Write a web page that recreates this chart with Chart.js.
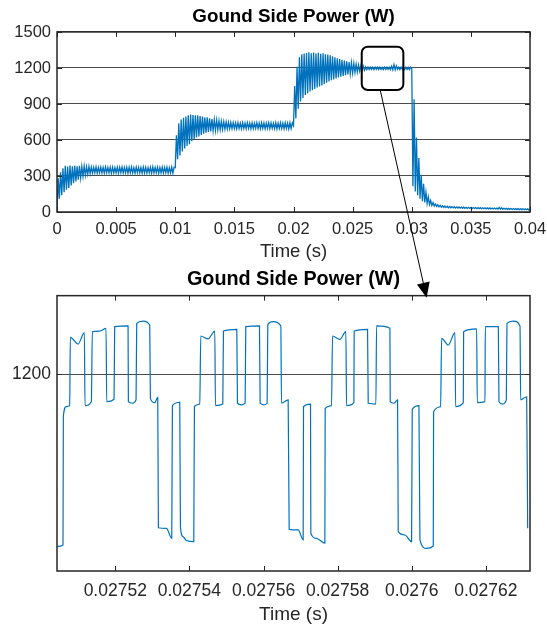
<!DOCTYPE html>
<html><head><meta charset="utf-8">
<script src="https://cdn.jsdelivr.net/npm/chart.js@4/dist/chart.umd.min.js"></script>
<style>
html,body{margin:0;padding:0;background:#fff;}
#wrap{position:relative;width:547px;height:629px;overflow:hidden;}
canvas{position:absolute;left:0;}
</style></head><body>
<div id="wrap">
<canvas id="topChart" width="547" height="266" style="top:0"></canvas>
<canvas id="botChart" width="547" height="363" style="top:266px"></canvas>
<canvas id="overlay" width="547" height="629" style="top:0;pointer-events:none"></canvas>
</div>
<script>
// ---------------- DATA ----------------
const chartTitle = 'Gound Side Power (W)';
const xAxisTitle = 'Time (s)';

const sampleStep = 0.0001;
const groundPower = [
  0, 280, 110, 330, 140, 365, 165, 385, 185, 378,
  200, 388, 222, 380, 240, 386, 255, 381, 270, 385,
  284, 378, 297, 382, 307, 376, 314, 380, 320, 374,
  324, 372, 326, 375, 323, 370, 327, 373, 325, 371,
  323, 374, 327, 370, 325, 373, 322, 372, 326, 369,
  325, 373, 323, 371, 327, 375, 324, 370, 326, 373,
  322, 372, 326, 374, 325, 369, 323, 373, 327, 371,
  325, 370, 323, 374, 326, 372, 324, 369, 327, 373,
  323, 375, 325, 371, 327, 373, 322, 370, 326, 374,
  324, 371, 327, 373, 323, 369, 325, 374, 323, 372,
  370, 640, 440, 740, 470, 770, 505, 785, 530, 795,
  550, 805, 565, 812, 590, 808, 605, 805, 620, 806,
  630, 800, 642, 795, 652, 790, 660, 788, 668, 780,
  672, 775, 676, 770, 680, 765, 684, 760, 686, 756,
  688, 752, 690, 750, 692, 746, 693, 745, 694, 744,
  695, 742, 693, 744, 696, 740, 694, 743, 697, 741,
  694, 744, 696, 741, 693, 743, 695, 740, 697, 744,
  695, 741, 694, 743, 697, 742, 693, 740, 696, 744,
  694, 742, 697, 740, 695, 744, 693, 741, 696, 743,
  695, 740, 694, 743, 696, 741, 693, 744, 695, 742,
  720, 1050, 780, 1210, 860, 1290, 920, 1315, 950, 1320,
  975, 1325, 990, 1330, 1005, 1322, 1015, 1328, 1025, 1320,
  1038, 1326, 1045, 1318, 1055, 1322, 1065, 1315, 1078, 1312,
  1088, 1305, 1098, 1298, 1105, 1290, 1112, 1280, 1120, 1275,
  1128, 1268, 1133, 1262, 1140, 1255, 1146, 1250, 1152, 1244,
  1158, 1238, 1163, 1232, 1168, 1226, 1173, 1220, 1177, 1215,
  1182, 1210, 1186, 1208, 1187, 1207, 1188, 1206, 1187, 1207,
  1188, 1206, 1187, 1207, 1188, 1205, 1187, 1206, 1188, 1207,
  1188, 1206, 1187, 1215, 1185, 1228, 1186, 1218, 1188, 1207,
  1187, 1206, 1188, 1207, 1187, 1206, 1188, 1205, 1187, 1206,
  1195, 215, 940, 170, 620, 140, 450, 110, 310, 90,
  235, 80, 165, 70, 125, 62, 95, 55, 78, 50,
  68, 46, 60, 43, 55, 40, 52, 38, 50, 37,
  48, 36, 46, 35, 45, 34, 44, 33, 43, 33,
  42, 32, 41, 31, 40, 31, 39, 30, 39, 30,
  38, 29, 37, 29, 37, 28, 36, 28, 36, 27,
  35, 27, 35, 26, 34, 26, 34, 25, 33, 25,
  33, 25, 32, 24, 38, 24, 36, 23, 31, 23,
  30, 22, 30, 22, 29, 21, 29, 21, 28, 20,
  28, 20, 27, 20, 27, 19, 26, 19, 26, 18,
  25
];
const topXTicks = [0, 0.005, 0.01, 0.015, 0.02, 0.025, 0.03, 0.035, 0.04];
const topXLabels = ['0', '0.005', '0.01', '0.015', '0.02', '0.025', '0.03', '0.035', '0.04'];
const topYTicks = [0, 300, 600, 900, 1200, 1500];
const topYLabels = ['0', '300', '600', '900', '1200', '1500'];

// Bottom chart: zoomed waveform (time in s, power in W)
const zoomTime = [
  0.02750428, 0.0275059, 0.02750599, 0.0275068, 0.0275077, 0.02750788, 0.02750995, 0.02751166,
  0.02751184, 0.02751355, 0.02751382, 0.0275158, 0.02751751, 0.02751769, 0.02751967, 0.02751985,
  0.02752345, 0.02752354, 0.02752462, 0.02752561, 0.02752579, 0.0275275, 0.0275293, 0.02752948,
  0.02753065, 0.02753146, 0.02753164, 0.0275338, 0.02753524, 0.02753542, 0.0275374, 0.02753758,
  0.0275383, 0.0275392, 0.02754118, 0.02754136, 0.0275428, 0.02754307, 0.02754505, 0.02754685,
  0.02754703, 0.02754901, 0.02754919, 0.02755279, 0.02755297, 0.02755405, 0.02755504, 0.02755522,
  0.02755891, 0.02755909, 0.02756008, 0.02756098, 0.02756116, 0.0275626, 0.02756467, 0.02756485,
  0.02756665, 0.02756692, 0.02756935, 0.0275707, 0.02757079, 0.02757268, 0.02757277, 0.0275743,
  0.02757655, 0.02757664, 0.02757835, 0.02757862, 0.0275806, 0.02758222, 0.0275824, 0.02758438,
  0.02758447, 0.02758807, 0.02758825, 0.02759032, 0.0275905, 0.0275941, 0.02759419, 0.02759518,
  0.02759617, 0.02759635, 0.02759815, 0.02759995, 0.02760013, 0.02760193, 0.0276022, 0.027604,
  0.0276058, 0.02760589, 0.02760778, 0.02760805, 0.02760985, 0.02761165, 0.02761183, 0.0276139,
  0.02761399, 0.0276175, 0.02761768, 0.02761975, 0.02761984, 0.02762335, 0.02762353, 0.02762452,
  0.02762551, 0.02762569, 0.0276274, 0.0276292, 0.02762938, 0.027631, 0.02763127
];
const zoomPower = [
  1112.4, 1113.2, 1178.5, 1183.6, 1184.1, 1218.8, 1215.4, 1221.2,
  1184.1, 1186.1, 1221.7, 1222.0, 1223.4, 1186.1, 1187.3, 1224.3,
  1224.6, 1186.1, 1185.3, 1187.0, 1225.9, 1227.1, 1225.1, 1187.8,
  1185.6, 1188.3, 1122.0, 1121.7, 1116.6, 1184.1, 1185.8, 1122.6,
  1117.5, 1115.5, 1114.9, 1183.6, 1184.9, 1219.5, 1218.0, 1222.0,
  1184.1, 1184.9, 1222.0, 1222.9, 1185.3, 1184.5, 1185.3, 1224.3,
  1224.6, 1185.3, 1184.5, 1185.3, 1225.4, 1226.8, 1224.6, 1185.3,
  1187.0, 1121.2, 1120.9, 1115.8, 1183.6, 1184.9, 1119.2, 1116.6,
  1114.1, 1182.7, 1184.1, 1219.5, 1217.8, 1221.7, 1184.1, 1185.6,
  1222.0, 1222.9, 1185.3, 1184.9, 1224.6, 1223.4, 1186.1, 1185.3,
  1187.0, 1120.0, 1118.3, 1114.9, 1182.2, 1184.1, 1115.8, 1111.5,
  1112.7, 1181.0, 1183.6, 1218.3, 1214.9, 1221.2, 1183.6, 1185.6,
  1221.7, 1223.1, 1185.6, 1186.1, 1224.3, 1224.3, 1186.1, 1184.9,
  1187.0, 1225.9, 1227.1, 1224.6, 1187.0, 1188.6, 1121.7
];
const zoomXRange = [0.02750428, 0.0276319];
const zoomYRange = [1100, 1240];
const zoomXTicks = [0.02752, 0.02754, 0.02756, 0.02758, 0.0276, 0.02762];
const zoomXLabels = ['0.02752', '0.02754', '0.02756', '0.02758', '0.0276', '0.02762'];
const zoomYTicks = [1200];
const zoomYLabels = ['1200'];

// Zoom annotation (box on top chart, arrow to bottom chart)
const zoomBoxTime = [0.02577, 0.02929];
const zoomBoxPower = [1017, 1377];
const arrowFrom = [0.027315, 1025];   // on top chart
const arrowTo = [0.027604, 1239];     // on bottom chart

// ---------------- STYLE ----------------
const FONT = "Arial, 'Liberation Sans', Helvetica, sans-serif";
const LINE = '#0072BD';
const TXT = '#262626';
const GRID = '#4a4a4a';

const framePlugin = {
  id: 'frame',
  afterDraw(chart) {
    const { ctx, chartArea: a, scales } = chart;
    ctx.save();
    ctx.strokeStyle = TXT;
    ctx.lineWidth = 1;
    const L = 5;
    ctx.beginPath();
    scales.x.ticks.forEach(t => {
      const px = Math.round(scales.x.getPixelForValue(t.value)) + 0.5;
      ctx.moveTo(px, a.bottom); ctx.lineTo(px, a.bottom - L);
      ctx.moveTo(px, a.top); ctx.lineTo(px, a.top + L);
    });
    scales.y.ticks.forEach(t => {
      const py = Math.round(scales.y.getPixelForValue(t.value)) + 0.5;
      ctx.moveTo(a.left, py); ctx.lineTo(a.left + L, py);
      ctx.moveTo(a.right, py); ctx.lineTo(a.right - L, py);
    });
    ctx.stroke();
    ctx.lineWidth = 1.5;
    ctx.strokeRect(a.left, a.top, a.right - a.left, a.bottom - a.top);
    ctx.restore();
  }
};

function tickSetter(list) { return s => { s.ticks = list.map(v => ({ value: v })); }; }

function makeChart(id, points, o) {
  return new Chart(document.getElementById(id), {
    type: 'line',
    data: { datasets: [{ data: points, borderColor: LINE, borderWidth: o.lw, pointRadius: 0, fill: false,
      tension: o.monotone ? 0.4 : 0, cubicInterpolationMode: o.monotone ? 'monotone' : 'default' }] },
    options: {
      responsive: false, animation: false, events: [],
      layout: { padding: { left: 0, right: 17, top: 0, bottom: 0 } },
      plugins: {
        legend: { display: false }, tooltip: { enabled: false },
        title: { display: true, fullSize: false, text: chartTitle, color: '#000',
          font: { family: FONT, size: o.titleSize, weight: 'bold', lineHeight: 1.2 },
          padding: o.titlePad }
      },
      scales: {
        x: { type: 'linear', min: o.xmin, max: o.xmax,
          afterBuildTicks: tickSetter(o.xTicks),
          afterFit: s => { s.height = o.xAxisH; s.paddingLeft = 0; s.paddingRight = 0; },
          grid: { display: false, drawTicks: false }, border: { display: false },
          ticks: { autoSkip: false, maxRotation: 0, minRotation: 0, padding: o.xTickPad, color: TXT,
            font: { family: FONT, size: o.tickSize }, callback: (v, i) => o.xLabels[i] },
          title: { display: true, text: xAxisTitle, color: TXT,
            font: { family: FONT, size: o.labelSize, lineHeight: 1.2 }, padding: o.xTitlePad } },
        y: { type: 'linear', min: o.ymin, max: o.ymax,
          afterBuildTicks: tickSetter(o.yTicks),
          afterFit: s => { s.width = o.yAxisW; s.paddingTop = 0; s.paddingBottom = 0; },
          grid: { color: GRID, lineWidth: 1, drawTicks: false }, border: { display: false },
          ticks: { padding: 6, color: TXT, font: { family: FONT, size: o.tickSize },
            callback: (v, i) => o.yLabels[i] } }
      }
    },
    plugins: [framePlugin]
  });
}

const topPoints = groundPower.map((p, i) => ({ x: i * sampleStep, y: p }));
const zoomPoints = zoomTime.map((t, i) => ({ x: t, y: zoomPower[i] }));

const topChart = makeChart('topChart', topPoints, {
  lw: 1.3, monotone: false, titleSize: 18.8, titlePad: { top: 5.4, bottom: 4.0 },
  xmin: 0, xmax: 0.04, xTicks: topXTicks, xLabels: topXLabels, xAxisH: 54, xTickPad: 8,
  tickSize: 16.5, labelSize: 18.5, xTitlePad: { top: 0, bottom: 3 },
  ymin: 0, ymax: 1500, yTicks: topYTicks, yLabels: topYLabels, yAxisW: 57
});
const botChart = makeChart('botChart', zoomPoints, {
  lw: 1.2, monotone: true, titleSize: 19.8, titlePad: { top: 2.1, bottom: 3.8 },
  xmin: zoomXRange[0], xmax: zoomXRange[1], xTicks: zoomXTicks, xLabels: zoomXLabels, xAxisH: 58, xTickPad: 10,
  tickSize: 17.5, labelSize: 19, xTitlePad: { top: 0, bottom: 2.6 },
  ymin: zoomYRange[0], ymax: zoomYRange[1], yTicks: zoomYTicks, yLabels: zoomYLabels, yAxisW: 57
});

// ---------------- OVERLAY (zoom box + arrow) ----------------
(function drawOverlay() {
  const ov = document.getElementById('overlay').getContext('2d');
  const botTop = 266;
  const tx = topChart.scales.x, ty = topChart.scales.y;
  const bxs = botChart.scales.x, bys = botChart.scales.y;
  const x0 = tx.getPixelForValue(zoomBoxTime[0]), x1 = tx.getPixelForValue(zoomBoxTime[1]);
  const y0 = ty.getPixelForValue(zoomBoxPower[1]), y1 = ty.getPixelForValue(zoomBoxPower[0]);
  ov.save();
  ov.strokeStyle = '#000';
  ov.lineWidth = 2;
  ov.beginPath();
  ov.roundRect(x0, y0, x1 - x0, y1 - y0, 6);
  ov.stroke();
  const ax = tx.getPixelForValue(arrowFrom[0]), ay = ty.getPixelForValue(arrowFrom[1]);
  const bx = bxs.getPixelForValue(arrowTo[0]), by = botTop + bys.getPixelForValue(arrowTo[1]);
  const ang = Math.atan2(by - ay, bx - ax);
  const HL = 15, HW = 6.5;
  const hx = bx - HL * Math.cos(ang), hy = by - HL * Math.sin(ang);
  ov.lineWidth = 1;
  ov.beginPath(); ov.moveTo(ax, ay); ov.lineTo(hx, hy); ov.stroke();
  ov.fillStyle = '#000';
  ov.beginPath();
  ov.moveTo(bx, by);
  ov.lineTo(hx + HW * Math.sin(ang), hy - HW * Math.cos(ang));
  ov.lineTo(hx - HW * Math.sin(ang), hy + HW * Math.cos(ang));
  ov.closePath(); ov.fill();
  ov.restore();
})();
</script>
</body></html>
